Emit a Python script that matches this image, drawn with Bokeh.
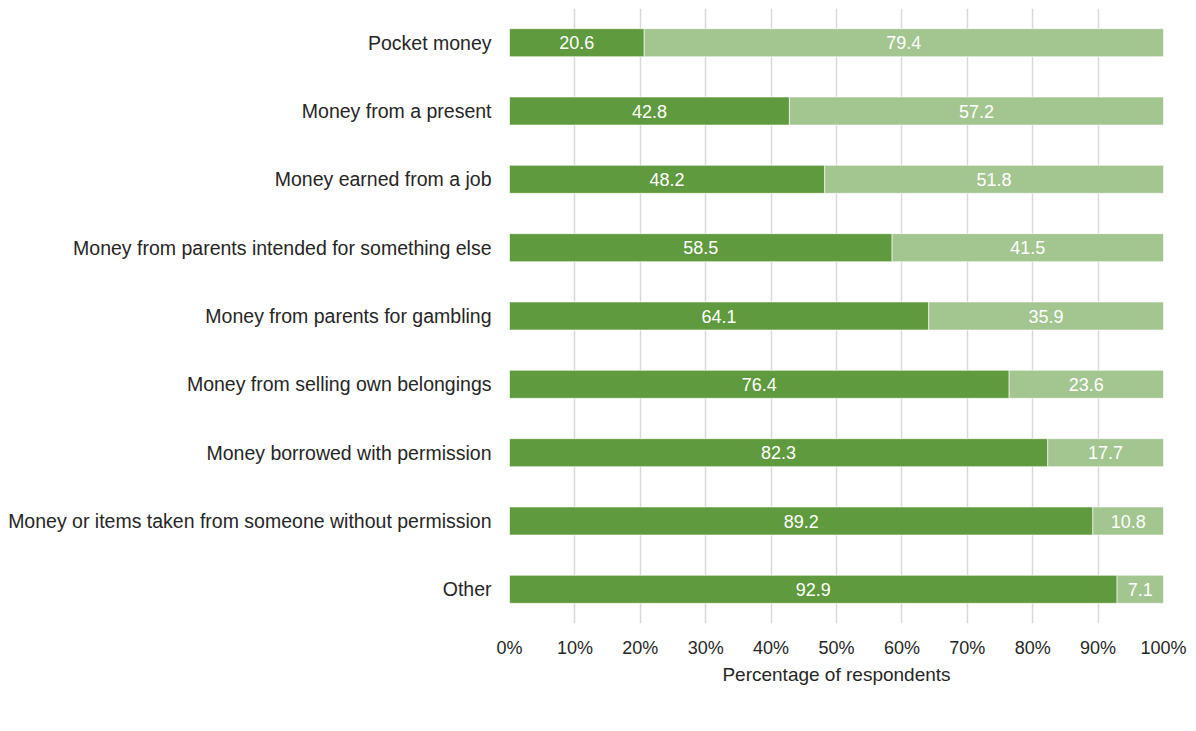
from bokeh.plotting import figure
from bokeh.models import ColumnDataSource, FactorRange, Range1d, FixedTicker, PrintfTickFormatter, LabelSet, Legend, LegendItem
from bokeh.core.properties import value
from bokeh.embed import file_html
from bokeh.resources import INLINE

categories = [
    "Pocket money",
    "Money from a present",
    "Money earned from a job",
    "Money from parents intended for something else",
    "Money from parents for gambling",
    "Money from selling own belongings",
    "Money borrowed with permission",
    "Money or items taken from someone without permission",
    "Other",
]
no_vals = [20.6, 42.8, 48.2, 58.5, 64.1, 76.4, 82.3, 89.2, 92.9]
yes_vals = [79.4, 57.2, 51.8, 41.5, 35.9, 23.6, 17.7, 10.8, 7.1]
x_ticks = [0, 10, 20, 30, 40, 50, 60, 70, 80, 90, 100]

DARK = "#5f9a3e"
LIGHT = "#a3c58f"
FONT = "Liberation Sans"
TXT = "#262626"

src = ColumnDataSource(dict(
    cat=categories,
    No=no_vals,
    Yes=yes_vals,
    no_mid=[v / 2 for v in no_vals],
    yes_mid=[n + y / 2 for n, y in zip(no_vals, yes_vals)],
    no_lbl=[f"{v:.1f}" for v in no_vals],
    yes_lbl=[f"{v:.1f}" for v in yes_vals],
))

p = figure(
    y_range=FactorRange(factors=list(reversed(categories)), range_padding=0),
    x_range=Range1d(0, 100),
    frame_width=654, frame_height=615,
    output_backend="svg", toolbar_location=None,
    min_border_left=509, min_border_right=25, min_border_top=8, min_border_bottom=108,
)

renderers = p.hbar_stack(["No", "Yes"], y="cat", height=0.41, color=[DARK, LIGHT],
                         line_color="white", line_width=1, line_alpha=0.6, source=src)

for xcol, tcol in (("no_mid", "no_lbl"), ("yes_mid", "yes_lbl")):
    p.add_layout(LabelSet(x=xcol, y="cat", text=tcol, source=src, text_align="center",
                          text_baseline="middle", text_color="white", text_font=value(FONT),
                          text_font_size="18px"))

p.outline_line_color = None
p.ygrid.grid_line_color = None
p.xgrid.grid_line_color = "#d9d9d9"
p.xgrid.grid_line_width = 1.5
p.xaxis.ticker = FixedTicker(ticks=x_ticks)
p.xaxis.formatter = PrintfTickFormatter(format="%d%%")
p.xaxis.axis_label = "Percentage of respondents"
p.xaxis.axis_label_text_font_style = "normal"
p.xaxis.axis_label_text_font = FONT
p.xaxis.axis_label_text_font_size = "19px"
p.xaxis.axis_label_text_color = TXT
p.xaxis.axis_label_standoff = 3

for ax in (p.xaxis, p.yaxis):
    ax.axis_line_color = None
    ax.major_tick_line_color = None
    ax.minor_tick_line_color = None
    ax.major_label_text_font = FONT
    ax.major_label_text_color = TXT
p.xaxis.major_label_text_font_size = "18px"
p.yaxis.major_label_text_font_size = "19.5px"
p.xaxis.major_label_standoff = 8
p.yaxis.major_label_standoff = 12

legend = Legend(items=[LegendItem(label=value("No"), renderers=[renderers[0]]),
                       LegendItem(label=value("Yes"), renderers=[renderers[1]])],
                orientation="horizontal", location=(44, -106),
                label_text_font=FONT, label_text_font_size="18px", label_text_color=TXT,
                label_width=0, label_height=18,
                glyph_width=10, glyph_height=10, spacing=10, label_standoff=6,
                border_line_color=None, background_fill_alpha=0, padding=1, margin=0)
p.add_layout(legend, "center")

open("out.html", "w").write(file_html(p, INLINE))
